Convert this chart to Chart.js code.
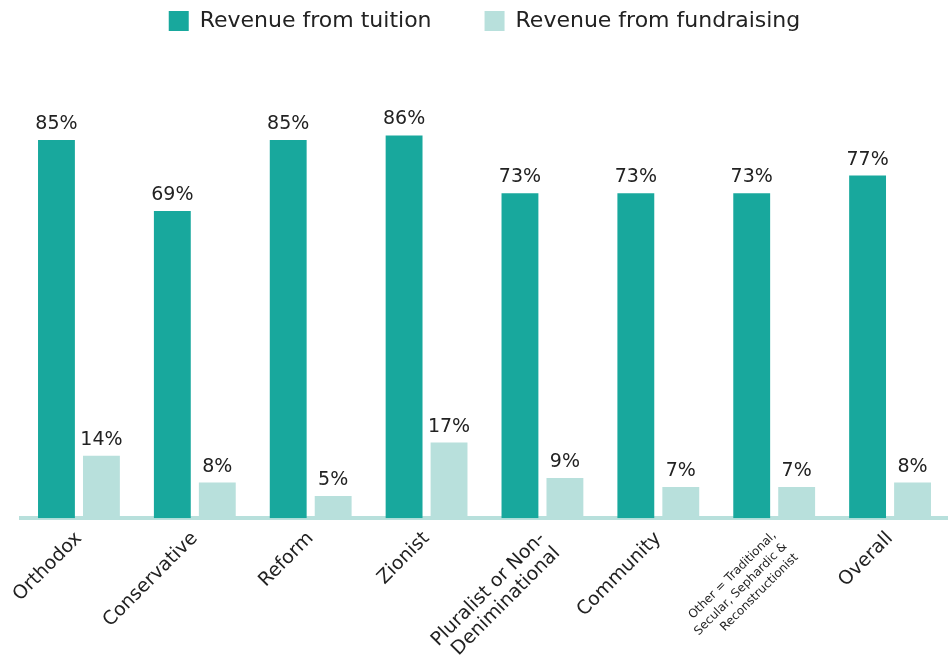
<!DOCTYPE html>
<html>
<head>
<meta charset="utf-8">
<script src="https://cdn.jsdelivr.net/npm/chart.js@4"></script>
<style>
  html, body { margin: 0; padding: 0; background: #ffffff; }
  #wrap { width: 948px; height: 661px; }
</style>
</head>
<body>
<div id="wrap"><canvas id="revenue-bar-chart"></canvas></div>
<script>
// 학교 유형 (x축 라벨)
const schoolTypes = [
    "Orthodox",
    "Conservative",
    "Reform",
    "Zionist",
    ["Pluralist or Non-", "Deniminational"],
    "Community",
    ["Other = Traditional,", "Secular, Sephardic &", "Reconstructionist"],
    "Overall"
];
// 수입 비율 (%)
const tuitionRevenue = [85, 69, 85, 86, 73, 73, 73, 77];
const fundraisingRevenue = [14, 8, 5, 17, 9, 7, 7, 8];

const seriesNames = ["Revenue from tuition", "Revenue from fundraising"];
const tuitionColor = "#18a89d";
const fundraisingColor = "#b8e0dc";
const fontName = "'DejaVu Sans', sans-serif";

// 막대 위 값 표시
const valueLabels = {
    id: 'valueLabels',
    afterDatasetsDraw(chart) {
        let ctx = chart.ctx;
        ctx.save();
        ctx.font = "19px " + fontName;
        ctx.fillStyle = "#222222";
        ctx.textAlign = "center";
        ctx.textBaseline = "alphabetic";
        chart.data.datasets.forEach(function(ds, i) {
            let meta = chart.getDatasetMeta(i);
            meta.data.forEach(function(bar, j) {
                ctx.fillText(ds.data[j] + "%", bar.x, bar.y - 11);
            });
        });
        ctx.restore();
    }
};

var revenueChart = new Chart(document.getElementById("revenue-bar-chart"), {
    type: 'bar',
    data: {
        labels: schoolTypes,
        datasets: [
            {
                label: seriesNames[0],
                backgroundColor: tuitionColor,
                data: tuitionRevenue
            },
            {
                label: seriesNames[1],
                backgroundColor: fundraisingColor,
                data: fundraisingRevenue
            }
        ]
    },
    options: {
        responsive: true,
        maintainAspectRatio: false,
        animation: false,
        categoryPercentage: 0.776,
        barPercentage: 0.82,
        layout: {
            padding: { left: 21, right: 0, top: -43, bottom: -10 }
        },
        plugins: {
            legend: {
                display: true,
                labels: {
                    boxWidth: 20,
                    boxHeight: 20,
                    padding: 53,
                    color: "#222222",
                    font: { family: fontName, size: 22 }
                }
            },
            tooltip: { enabled: false }
        },
        scales: {
            x: {
                grid: { display: false },
                border: { display: true, color: fundraisingColor, width: 4 },
                ticks: {
                    autoSkip: false,
                    maxRotation: 45,
                    minRotation: 45,
                    padding: 2,
                    color: "#222222",
                    font: function(c) {
                        if (c.index === 6)
                            return { family: fontName, size: 12, lineHeight: 1.3 };
                        return { family: fontName, size: 19, lineHeight: 1.1 };
                    }
                }
            },
            y: {
                display: false,
                min: 0,
                max: 107
            }
        }
    },
    plugins: [valueLabels]
});
</script>
</body>
</html>
